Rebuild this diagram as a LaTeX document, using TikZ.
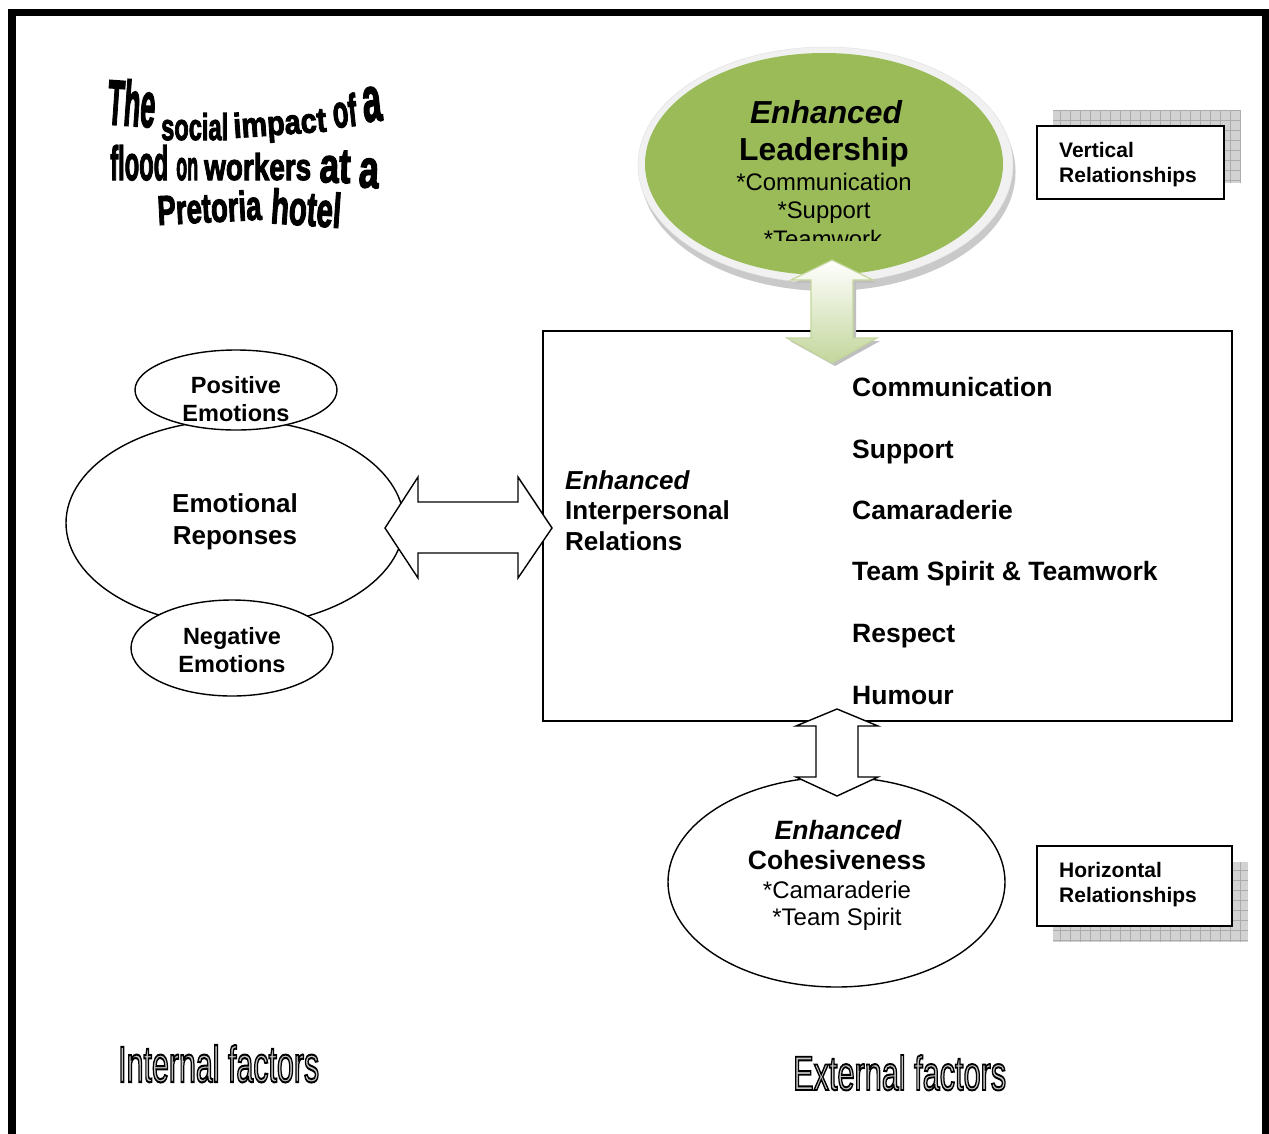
\documentclass[tikz,border=0pt]{standalone}
\usepackage{fontspec}
\setmainfont{Liberation Sans}
% heavy lettering for the title, stroked lettering for the captions
\newfontfamily\artfont{Liberation Sans}[BoldFeatures={FakeBold=3}]
\newfontfamily\hollowfont{Liberation Sans}[FakeBold=4]
\usepackage{graphicx}
\usetikzlibrary{shapes.geometric}

\definecolor{leafgreen}{RGB}{155,187,89}
\definecolor{palegreen}{RGB}{195,214,155}
\definecolor{halo}{RGB}{241,241,241}

\newcommand\fsz[1]{\fontsize{#1pt}{#1pt}\selectfont}
% grey letters with a black stroke round them
\newcommand\hollow[1]{{\hollowfont\color{gray!45}\special{pdf:code 0 G}#1}}

\begin{document}
\begin{tikzpicture}[x=1pt,y=1pt,
  art/.style={anchor=base west, inner sep=0pt, font=\artfont\bfseries},
  captxt/.style={anchor=base west, inner sep=0pt},
  lbl/.style={anchor=base, inner sep=0pt},
  lblw/.style={anchor=base west, inner sep=0pt},
  oval/.style={ellipse, draw=black, line width=1.4pt, fill=white, inner sep=0pt},
  relbox/.style={draw=black, line width=1.6pt, fill=white, inner sep=0pt},
  blockarrow/.style={draw=black, line width=1.4pt, fill=white, line join=miter},
]
\useasboundingbox (0,0) rectangle (1269,-1133);
\fill[white] (0,0) rectangle (1269,-1133);

% page frame, open at the bottom
\draw[line width=7.5pt, line join=miter] (12,-1140) -- (12,-12.5) -- (1266,-12.5) -- (1266,-1140);

% ---------- title lettering ----------
\node[art, rotate=-4] (tw1) at (106,-124) {\resizebox{48pt}{46pt}{The}};
\node[art] (tw2) at (161,-140) {\resizebox{67pt}{27pt}{social}};
\node[art, rotate=4] (tw3) at (234,-138) {\resizebox{93pt}{25pt}{impact}};
\node[art, rotate=6] (tw4) at (334,-128) {\resizebox{24pt}{33pt}{of}};
\node[art, rotate=6] (tw5) at (364,-122) {\resizebox{19pt}{34pt}{a}};
\node[art] (tw6) at (110,-180) {\resizebox{58pt}{35pt}{flood}};
\node[art] (tw7) at (176,-180) {\resizebox{22pt}{22pt}{on}};
\node[art] (tw8) at (204,-180) {\resizebox{107pt}{27pt}{workers}};
\node[art, rotate=-2] (tw9) at (319,-182) {\resizebox{31pt}{32pt}{at}};
\node[art, rotate=-3] (tw10) at (358,-187) {\resizebox{20pt}{29pt}{a}};
\node[art, rotate=3] (tw11) at (158,-225) {\resizebox{104pt}{30pt}{Pretoria}};
\node[art, rotate=-4] (tw12) at (270,-223) {\resizebox{70pt}{35pt}{hotel}};

% ---------- leadership bubble ----------
\node[ellipse, fill=gray!42, inner sep=0pt, minimum width=375pt, minimum height=238pt] (leadshadow) at (828,-172) {};
\node[ellipse, fill=halo, draw=gray!25, inner sep=0pt, minimum width=375pt, minimum height=236pt] (leadhalo) at (825.5,-165) {};
\node[ellipse, fill=leafgreen, inner sep=0pt, minimum width=358pt, minimum height=222pt] (lead) at (824,-164) {};
\begin{scope}
  \clip (600,-40) rectangle (1050,-240);
  \node[lbl, font=\fsz{31.8}\bfseries\itshape] (lead1) at (826,-123) {Enhanced};
  \node[lbl, font=\fsz{31.8}\bfseries] (lead2) at (824,-160) {Leadership};
  \node[lbl, font=\fsz{23.9}] (lead3) at (824,-190) {*Communication};
  \node[lbl, font=\fsz{23.9}] (lead4) at (824,-218) {*Support};
  \node[lbl, font=\fsz{23.9}] (lead5) at (823,-247) {*Teamwork};
\end{scope}

% ---------- vertical relationships tag ----------
\fill[gray!35] (1053,-110) rectangle (1240,-183);
\draw[gray!65, line width=0.6pt, step=10] (1053,-110) grid (1240,-183);
\node[relbox, minimum width=187pt, minimum height=73pt] (vbox) at (1130.5,-162.5) {};
\node[lblw, font=\fsz{21}\bfseries] (vbox1) at (1059,-157.5) {Vertical};
\node[lblw, font=\fsz{21}\bfseries] (vbox2) at (1059,-182.5) {Relationships};

% ---------- interpersonal relations box ----------
\node[draw=black, line width=1.5pt, inner sep=0pt, minimum width=689pt, minimum height=390pt] (ipr) at (887.5,-526) {};
\node[lblw, font=\fsz{26}\bfseries\itshape] (ipr1) at (565,-489.3) {Enhanced};
\node[lblw, font=\fsz{26}\bfseries] (ipr2) at (565,-519.3) {Interpersonal};
\node[lblw, font=\fsz{26}\bfseries] (ipr3) at (565,-550.3) {Relations};
\node[lblw, font=\fsz{26.5}\bfseries] (it1) at (852,-396.5) {Communication};
\node[lblw, font=\fsz{26.5}\bfseries] (it2) at (852,-458.5) {Support};
\node[lblw, font=\fsz{26.5}\bfseries] (it3) at (852,-519.5) {Camaraderie};
\node[lblw, font=\fsz{26.5}\bfseries] (it4) at (852,-580.5) {Team Spirit \& Teamwork};
\node[lblw, font=\fsz{26.5}\bfseries] (it5) at (852,-642.5) {Respect};
\node[lblw, font=\fsz{26.5}\bfseries] (it6) at (852,-704.5) {Humour};

% green double arrow between leadership and the box
\coordinate (gaT) at (832,-260);
\fill[gray!50] ([shift={(3,-3)}]gaT) -- ++(41,-20) -- ++(-20,0) -- ++(0,-58) -- ++(24,0)
  -- ++(-45,-25) -- ++(-45,25) -- ++(24,0) -- ++(0,58) -- ++(-20,0) -- cycle;
\draw[draw=palegreen, line width=1.2pt, top color=white, bottom color=palegreen, line join=miter]
  (gaT) -- ++(41,-20) -- ++(-20,0) -- ++(0,-58) -- ++(24,0)
  -- ++(-45,-25) -- ++(-45,25) -- ++(24,0) -- ++(0,58) -- ++(-20,0) -- cycle;

% ---------- emotional responses ----------
\node[oval, minimum width=338pt, minimum height=206pt] (emo) at (235,-523) {};
\node[oval, minimum width=202pt, minimum height=80pt] (pos) at (236,-390) {};
\node[oval, minimum width=202pt, minimum height=96pt] (neg) at (232,-648) {};
\node[lbl, font=\fsz{26}\bfseries] (emo1) at (235,-512) {Emotional};
\node[lbl, font=\fsz{26}\bfseries] (emo2) at (235,-544) {Reponses};
\node[lbl, font=\fsz{23.5}\bfseries] (pos1) at (236,-393.4) {Positive};
\node[lbl, font=\fsz{23.5}\bfseries] (pos2) at (236,-421.4) {Emotions};
\node[lbl, font=\fsz{23.5}\bfseries] (neg1) at (232,-644.4) {Negative};
\node[lbl, font=\fsz{23.5}\bfseries] (neg2) at (232,-672.4) {Emotions};

% two-way arrow between emotions and the box
\coordinate (lrL) at (385,-528);
\draw[blockarrow] (lrL) -- ++(33,51) -- ++(0,-25) -- ++(100,0) -- ++(0,25) -- ++(34,-51)
  -- ++(-34,-50) -- ++(0,25) -- ++(-100,0) -- ++(0,-25) -- cycle;

% ---------- cohesiveness ----------
\node[oval, minimum width=337pt, minimum height=210pt] (coh) at (836.5,-882) {};
\node[lbl, font=\fsz{26.5}\bfseries\itshape] (coh1) at (838,-839.5) {Enhanced};
\node[lbl, font=\fsz{26.5}\bfseries] (coh2) at (837,-869.5) {Cohesiveness};
\node[lbl, font=\fsz{24}] (coh3) at (837,-898.5) {*Camaraderie};
\node[lbl, font=\fsz{24}] (coh4) at (837,-925.6) {*Team Spirit};

% two-way arrow between the box and cohesiveness
\coordinate (dnT) at (837,-709);
\draw[blockarrow] (dnT) -- ++(41,-17) -- ++(-20,0) -- ++(0,-51) -- ++(20,0) -- ++(-41,-19)
  -- ++(-41,19) -- ++(20,0) -- ++(0,51) -- ++(-20,0) -- cycle;

% ---------- horizontal relationships tag ----------
\fill[gray!35] (1053,-862) rectangle (1248,-942);
\draw[gray!65, line width=0.6pt, step=10] (1053,-862) grid (1248,-942);
\node[relbox, minimum width=195pt, minimum height=80pt] (hbox) at (1134.5,-886) {};
\node[lblw, font=\fsz{21}\bfseries] (hbox1) at (1059,-877.5) {Horizontal};
\node[lblw, font=\fsz{21}\bfseries] (hbox2) at (1059,-902.5) {Relationships};

% ---------- factor captions ----------
\node[captxt] (intf) at (118,-1082) {\resizebox{201pt}{37pt}{\hollow{Internal factors}}};
\node[captxt] (extf) at (793,-1090) {\resizebox{213pt}{35pt}{\hollow{External factors}}};

\end{tikzpicture}
\end{document}
